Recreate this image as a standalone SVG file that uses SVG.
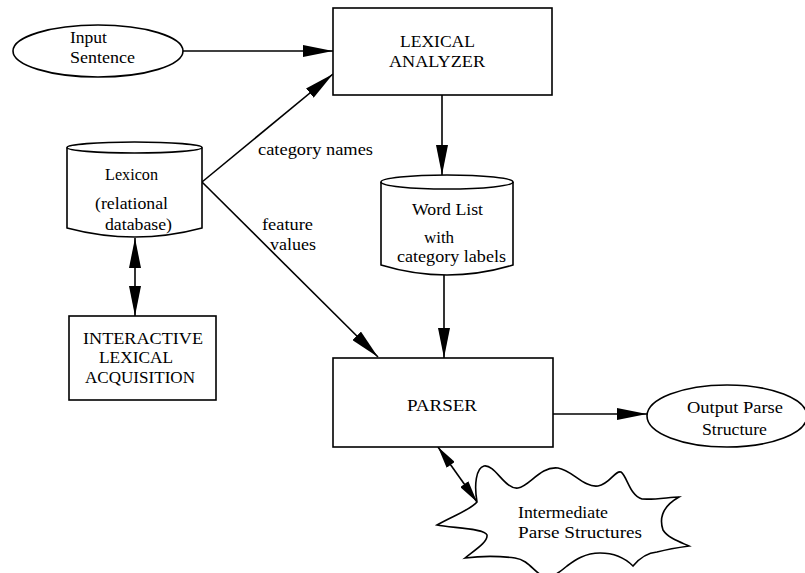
<svg xmlns="http://www.w3.org/2000/svg" width="805" height="573" viewBox="0 0 805 573">
<style>
.s{fill:#fff;stroke:#000;stroke-width:1.6}
.t{font-family:"Liberation Serif","Times New Roman",serif;font-size:17px;fill:#000}
.c{text-anchor:middle}
.e{fill:none;stroke:#000;stroke-width:1.6}
</style>
<defs>
<marker id="ah" markerUnits="userSpaceOnUse" markerWidth="30" markerHeight="12" refX="30" refY="6" orient="auto-start-reverse">
<path d="M0,0 L30,6 L0,12 Z" fill="#000"/>
</marker>
<marker id="ahs" markerUnits="userSpaceOnUse" markerWidth="22" markerHeight="10" refX="22" refY="5" orient="auto-start-reverse">
<path d="M0,0 L22,5 L0,10 Z" fill="#000"/>
</marker>
</defs>
<rect width="805" height="573" fill="#fff"/>
<g id="connectors">
<line class="e" x1="183" y1="51" x2="333" y2="51" marker-end="url(#ah)"/>
<line class="e" x1="202" y1="182" x2="333" y2="74" marker-end="url(#ah)"/>
<line class="e" x1="202" y1="182" x2="378" y2="357" marker-end="url(#ah)"/>
<line class="e" x1="135" y1="238" x2="135" y2="316" marker-start="url(#ah)" marker-end="url(#ah)"/>
<line class="e" x1="442" y1="95" x2="442" y2="175" marker-end="url(#ah)"/>
<line class="e" x1="444" y1="275" x2="444" y2="358" marker-end="url(#ah)"/>
<line class="e" x1="553" y1="414" x2="647" y2="414" marker-end="url(#ah)"/>
<line class="e" x1="438" y1="447" x2="477" y2="502" marker-start="url(#ahs)" marker-end="url(#ahs)"/>
<text class="t" x="258" y="155" textLength="115" lengthAdjust="spacingAndGlyphs">category names</text>
<text class="t" x="262" y="230" textLength="51" lengthAdjust="spacingAndGlyphs">feature</text>
<text class="t" x="270" y="250" textLength="46" lengthAdjust="spacingAndGlyphs">values</text>
</g>
<g id="input">
<ellipse class="s" cx="98" cy="51" rx="85" ry="26"/>
<text class="t" x="70" y="43" textLength="37" lengthAdjust="spacingAndGlyphs">Input</text>
<text class="t" x="70" y="63" textLength="65" lengthAdjust="spacingAndGlyphs">Sentence</text>
</g>
<g id="lexical-analyzer">
<rect class="s" x="333" y="8" width="219" height="87"/>
<text class="t" x="400" y="47" textLength="75" lengthAdjust="spacingAndGlyphs">LEXICAL</text>
<text class="t" x="389" y="67" textLength="96" lengthAdjust="spacingAndGlyphs">ANALYZER</text>
</g>
<g id="lexicon">
<path class="s" d="M67,147.5 L67,228 Q135,246 202,228 L202,147.5"/>
<ellipse class="s" cx="134.5" cy="147.5" rx="67.5" ry="5.5"/>
<text class="t" x="105" y="180" textLength="53" lengthAdjust="spacingAndGlyphs">Lexicon</text>
<text class="t" x="95" y="209" textLength="73" lengthAdjust="spacingAndGlyphs">(relational</text>
<text class="t" x="105" y="230" textLength="67" lengthAdjust="spacingAndGlyphs">database)</text>
</g>
<g id="interactive">
<rect class="s" x="69" y="316" width="147" height="84"/>
<text class="t" x="83" y="344" textLength="120" lengthAdjust="spacingAndGlyphs">INTERACTIVE</text>
<text class="t" x="99" y="363" textLength="74" lengthAdjust="spacingAndGlyphs">LEXICAL</text>
<text class="t" x="85" y="383" textLength="110" lengthAdjust="spacingAndGlyphs">ACQUISITION</text>
</g>
<g id="word-list">
<path class="s" d="M381,182 L381,265 Q447,285 513,265 L513,182"/>
<ellipse class="s" cx="447" cy="182" rx="66" ry="7"/>
<text class="t" x="412" y="215" textLength="71" lengthAdjust="spacingAndGlyphs">Word List</text>
<text class="t c" x="439" y="243">with</text>
<text class="t" x="397" y="262" textLength="109" lengthAdjust="spacingAndGlyphs">category labels</text>
</g>
<g id="parser">
<rect class="s" x="333" y="358" width="220" height="89"/>
<text class="t" x="407" y="411" textLength="70" lengthAdjust="spacingAndGlyphs">PARSER</text>
</g>
<g id="output">
<ellipse class="s" cx="727" cy="416" rx="80" ry="31"/>
<text class="t" x="687" y="413" textLength="96" lengthAdjust="spacingAndGlyphs">Output Parse</text>
<text class="t" x="702" y="435" textLength="65" lengthAdjust="spacingAndGlyphs">Structure</text>
</g>
<g id="intermediate">
<path class="s" d="M477,502 C474,485 476,468 484,466 C495,464 505,490 518,488 C530,486 540,466 558,468 C572,470 584,488 598,486 C610,484 615,470 621,472 C627,476 630,496 642,499 C655,500 670,497 679,497 C665,505 658,515 663,530 C668,538 680,542 689,546 C675,548 665,550 657,552 C645,553 638,560 633,566 C625,558 615,553 600,553 C585,553 575,560 567,566 C560,572 552,578 546,577 C535,575 530,560 515,558 C500,556 480,556 465,558 C475,550 488,542 487,535 C485,528 450,528 437,525 C455,515 470,510 477,502 Z"/>
<text class="t" x="518" y="518" textLength="90" lengthAdjust="spacingAndGlyphs">Intermediate</text>
<text class="t" x="518" y="538" textLength="124" lengthAdjust="spacingAndGlyphs">Parse Structures</text>
</g>
</svg>
